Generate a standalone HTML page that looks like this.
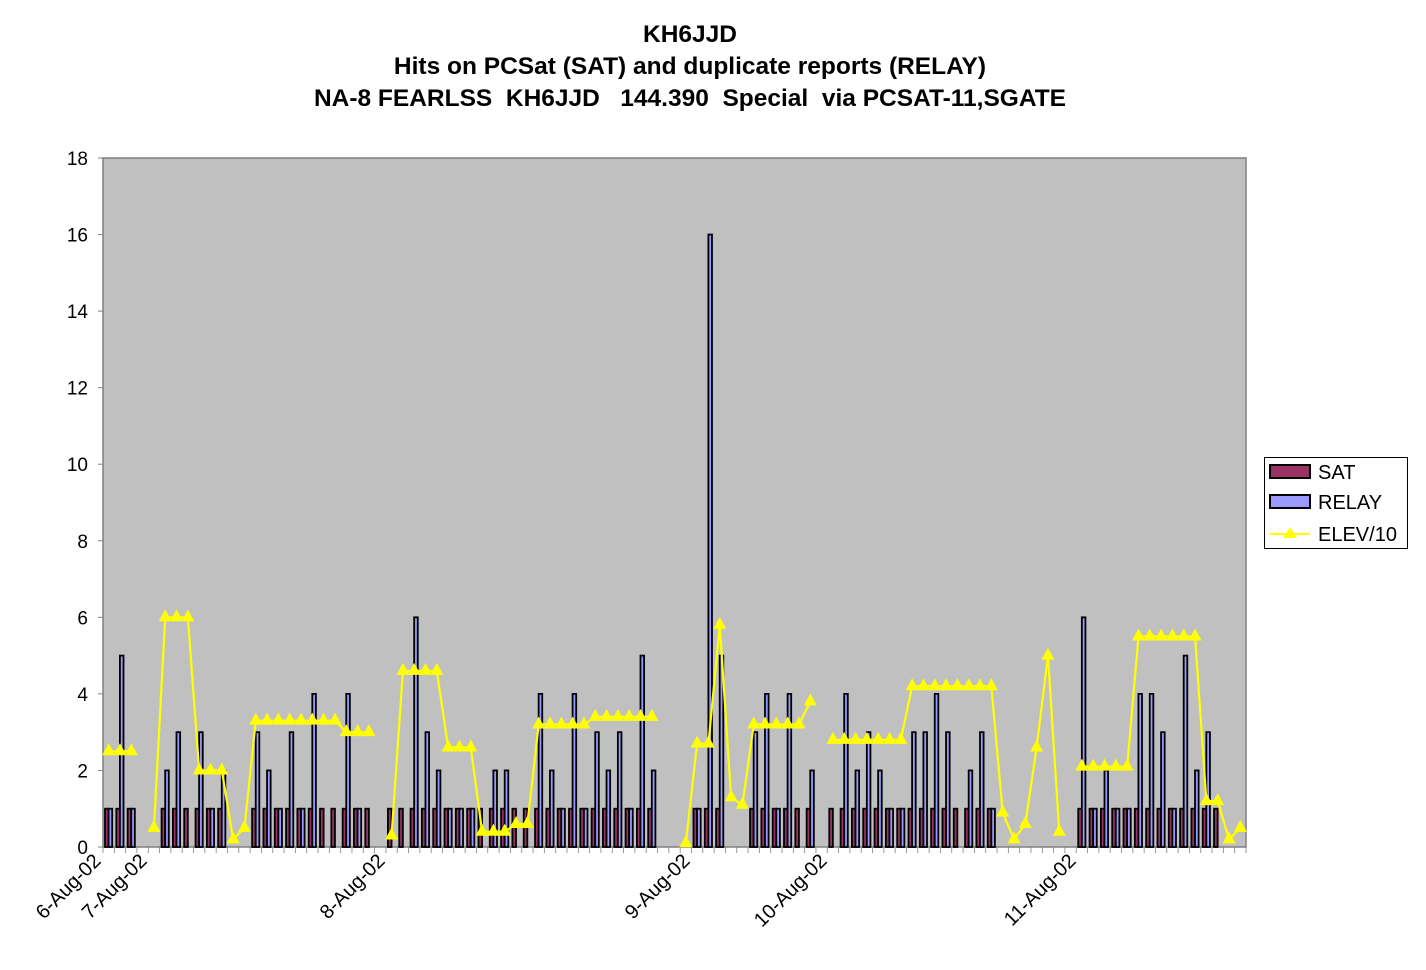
<!DOCTYPE html>
<html><head><meta charset="utf-8"><style>
html,body{margin:0;padding:0;background:#fff;}
svg{display:block;font-family:"Liberation Sans",Arial,sans-serif;}
</style></head><body>
<svg id="c" width="1426" height="970" xmlns="http://www.w3.org/2000/svg">
<text x="690" y="42" text-anchor="middle" font-size="24.5" font-weight="bold">KH6JJD</text>
<text x="690" y="74" text-anchor="middle" font-size="24.5" font-weight="bold">Hits on PCSat (SAT) and duplicate reports (RELAY)</text>
<text x="690" y="106" text-anchor="middle" font-size="24.5" font-weight="bold" xml:space="preserve">NA-8 FEARLSS  KH6JJD   144.390  Special  via PCSAT-11,SGATE</text>
<rect x="103" y="158" width="1143" height="689" fill="#c0c0c0" stroke="#808080" stroke-width="1.5"/>
<g id="g"></g>
<rect x="1264.5" y="457.5" width="143" height="91" fill="#fff" stroke="#000" stroke-width="1"/>
<rect x="1270" y="465" width="40" height="13" fill="#993366" stroke="#000" stroke-width="2"/>
<text x="1318" y="479" font-size="20">SAT</text>
<rect x="1270" y="495" width="40" height="13" fill="#9999ff" stroke="#000" stroke-width="2"/>
<text x="1318" y="509" font-size="20">RELAY</text>
<line x1="1270" y1="534" x2="1310" y2="534" stroke="#ffff00" stroke-width="2"/>
<polygon points="1290,527 1297,538 1283,538" fill="#ffff00"/>
<text x="1318" y="541" font-size="20">ELEV/10</text>
<text transform="translate(102,862) rotate(-45)" text-anchor="end" font-size="20">6-Aug-02</text>
<text transform="translate(148,862) rotate(-45)" text-anchor="end" font-size="20">7-Aug-02</text>
<text transform="translate(386,862) rotate(-45)" text-anchor="end" font-size="20">8-Aug-02</text>
<text transform="translate(691,862) rotate(-45)" text-anchor="end" font-size="20">9-Aug-02</text>
<text transform="translate(828,862) rotate(-45)" text-anchor="end" font-size="20">10-Aug-02</text>
<text transform="translate(1077,862) rotate(-45)" text-anchor="end" font-size="20">11-Aug-02</text>
</svg>
<script>
var S=[1,1,1,0,0,1,1,1,1,1,1,0,0,1,1,1,1,1,1,1,1,1,1,1,0,1,1,1,1,1,1,1,1,1,1,1,1,1,1,1,1,1,1,1,1,1,1,1,1,0,0,0,1,1,1,0,0,1,1,1,1,1,1,0,1,1,1,1,1,1,1,1,1,1,1,1,1,1,1,0,0,0,0,0,0,0,1,1,1,1,1,1,1,1,1,1,1,1,1,0,0];
var R=[1,5,1,0,0,2,3,0,3,1,2,0,0,3,2,1,3,1,4,0,0,4,1,0,0,0,0,6,3,2,1,1,1,0,2,2,0,0,4,2,1,4,1,3,2,3,1,5,2,0,0,0,1,16,5,0,0,3,4,1,4,0,2,0,0,4,2,3,2,1,1,3,3,4,3,0,2,3,1,0,0,0,0,0,0,0,6,1,2,1,1,4,4,3,1,5,2,3,0,0,0];
var E={0:2.5,1:2.5,2:2.5,4:0.5,5:6,6:6,7:6,8:2,9:2,10:2,11:0.2,12:0.5,13:3.3,14:3.3,15:3.3,16:3.3,17:3.3,18:3.3,19:3.3,20:3.3,21:3,22:3,23:3,25:0.3,26:4.6,27:4.6,28:4.6,29:4.6,30:2.6,31:2.6,32:2.6,33:0.4,34:0.4,35:0.4,36:0.6,37:0.6,38:3.2,39:3.2,40:3.2,41:3.2,42:3.2,43:3.4,44:3.4,45:3.4,46:3.4,47:3.4,48:3.4,51:0.1,52:2.7,53:2.7,54:5.8,55:1.3,56:1.1,57:3.2,58:3.2,59:3.2,60:3.2,61:3.2,62:3.8,64:2.8,65:2.8,66:2.8,67:2.8,68:2.8,69:2.8,70:2.8,71:4.2,72:4.2,73:4.2,74:4.2,75:4.2,76:4.2,77:4.2,78:4.2,79:0.9,80:0.2,81:0.6,82:2.6,83:5.0,84:0.4,86:2.1,87:2.1,88:2.1,89:2.1,90:2.1,91:5.5,92:5.5,93:5.5,94:5.5,95:5.5,96:5.5,97:1.2,98:1.2,99:0.2,100:0.5};
var N=101,X0=103,W=1143/N,Y0=847,U=689/18,h='';
for(var v=0;v<=18;v+=2){var y=Y0-v*U;h+='<line x1="98" y1="'+y+'" x2="103" y2="'+y+'" stroke="#808080"/><text x="88" y="'+(y+7)+'" text-anchor="end" font-size="19">'+v+'</text>';}
for(var i=0;i<=N;i++){var x=X0+i*W;h+='<line x1="'+x+'" y1="847" x2="'+x+'" y2="853" stroke="#808080" stroke-width="0.8"/>';}
for(i=0;i<N;i++){var x=X0+i*W;
 if(S[i])h+='<rect x="'+(x+2)+'" y="'+(Y0-S[i]*U)+'" width="3.6" height="'+(S[i]*U)+'" fill="#993366" stroke="#000" stroke-width="1.8"/>';
 if(R[i])h+='<rect x="'+(x+5.6)+'" y="'+(Y0-R[i]*U)+'" width="3.6" height="'+(R[i]*U)+'" fill="#9999ff" stroke="#000" stroke-width="1.8"/>';}
var seg=[],segs=[];
for(i=0;i<N;i++){if(E[i]!==undefined){seg.push([X0+(i+0.5)*W,Y0-E[i]*U]);}else if(seg.length){segs.push(seg);seg=[];}}
if(seg.length)segs.push(seg);
segs.forEach(function(s){h+='<polyline fill="none" stroke="#ffff00" stroke-width="2.2" points="'+s.map(function(p){return p[0]+','+p[1]}).join(' ')+'"/>';});
segs.forEach(function(s){s.forEach(function(p){h+='<polygon fill="#ffff00" points="'+p[0]+','+(p[1]-8)+' '+(p[0]+6.5)+','+(p[1]+4)+' '+(p[0]-6.5)+','+(p[1]+4)+'"/>';});});
document.getElementById('g').innerHTML=h;
</script>
</body></html>
